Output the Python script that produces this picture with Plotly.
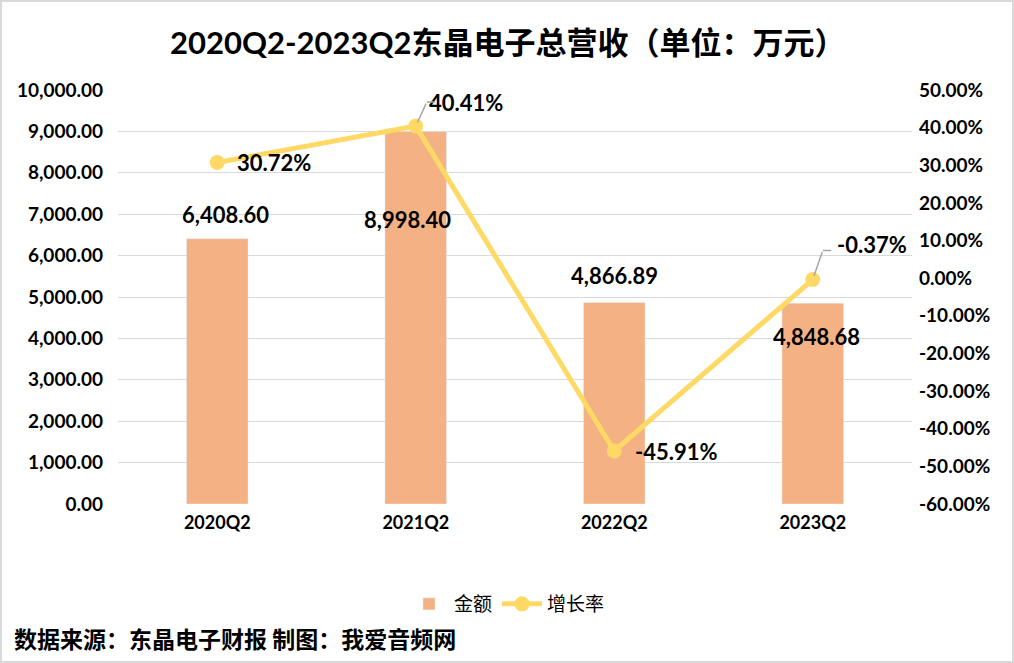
import plotly.graph_objects as go

categories = ["2020Q2", "2021Q2", "2022Q2", "2023Q2"]
amount = [6408.60, 8998.40, 4866.89, 4848.68]
growth = [30.72, 40.41, -45.91, -0.37]
left_ticks = [0, 1000, 2000, 3000, 4000, 5000, 6000, 7000, 8000, 9000, 10000]
right_ticks = [50, 40, 30, 20, 10, 0, -10, -20, -30, -40, -50, -60]

W, H = 1014, 663
L, R, T, B = 118, 102, 90, 159
PW, PH = W - L - R, H - T - B

BAR_C = "#F4B183"
LINE_C = "#FFD966"
LAT = "Lato, 'Noto Sans CJK SC', sans-serif"
CJK = "'Noto Sans CJK SC', sans-serif"

fig = go.Figure()
fig.add_trace(go.Bar(x=categories, y=amount, name="金额", marker_color=BAR_C,
                     width=0.31, yaxis="y"))
fig.add_trace(go.Scatter(x=categories, y=growth, name="增长率", mode="lines+markers",
                         line=dict(color=LINE_C, width=5),
                         marker=dict(color=LINE_C, size=15), yaxis="y2"))

ann = []
bar_shift = [24, -88, 27, -33]
bar_xshift = [8, -8, 0, 4]
for c, v, ys, xs in zip(categories, amount, bar_shift, bar_xshift):
    ann.append(dict(x=c, y=v, xref="x", yref="y", text=f"{v:,.2f}", showarrow=False,
                    yshift=ys, xshift=xs, font=dict(family=LAT, size=22, color="black", weight="bold")))

line_off = [(57, 0), (50, 24), (62, -1), (59, 35)]
for c, v, (xs, ys) in zip(categories, growth, line_off):
    ann.append(dict(x=c, y=v, xref="x", yref="y2", text=f"{v:.2f}%", showarrow=False,
                    xshift=xs, yshift=ys, font=dict(family=LAT, size=22, color="black", weight="bold")))

# leader lines for 2021Q2 and 2023Q2
for i, (dx, dy) in [(1, (11, -24)), (3, (10, -29))]:
    ann.append(dict(x=categories[i], y=growth[i], xref="x", yref="y2", text="",
                    showarrow=True, arrowhead=0, arrowwidth=1.5, arrowcolor="#A6A6A6",
                    ax=dx, ay=dy, axref="pixel", ayref="pixel", standoff=4))
    ann.append(dict(x=categories[i], y=growth[i], xref="x", yref="y2", text="",
                    showarrow=True, arrowhead=0, arrowwidth=1.5, arrowcolor="#A6A6A6",
                    xshift=dx, yshift=-dy, ax=10, ay=0, standoff=0, startstandoff=0))

ann.append(dict(xref="paper", yref="paper", x=(12 - L) / PW, y=1 - (638 - T) / PH,
                xanchor="left", yanchor="middle", showarrow=False,
                text="数据来源：东晶电子财报 制图：我爱音频网",
                font=dict(family=CJK, size=23, color="black", weight="bold")))

ann.append(dict(xref="paper", yref="paper", x=(W / 2 - L) / PW, y=1 + (T - 42) / PH,
                xanchor="center", yanchor="middle", showarrow=False,
                text="2020Q2-2023Q2东晶电子总营收（单位：万元）",
                font=dict(family=LAT, size=31, color="black", weight="bold")))

fig.update_layout(
    width=W, height=H,
    margin=dict(l=L, r=R, t=T, b=B),
    paper_bgcolor="white", plot_bgcolor="white",
    bargap=0.69,
    xaxis=dict(showline=False, ticks="", tickfont=dict(family=LAT, size=18, color="black", weight="bold"),
               showgrid=False, ticklabelstandoff=6),
    yaxis=dict(range=[0, 10000], tickvals=left_ticks,
               ticktext=[f"{v:,.2f}" for v in left_ticks],
               showgrid=True, gridcolor="#D9D9D9", gridwidth=1.3, zeroline=False,
               tickfont=dict(family=LAT, size=19, color="black", weight="bold"),
               ticks="", ticklabelstandoff=14),
    yaxis2=dict(range=[-60, 50], tickvals=right_ticks,
                ticktext=[f"{v:.2f}%" for v in right_ticks],
                overlaying="y", side="right", showgrid=False, zeroline=False,
                tickfont=dict(family=LAT, size=19, color="black", weight="bold"),
                ticks="", ticklabelstandoff=6),
    showlegend=True,
    legend=dict(orientation="h", xanchor="center", yanchor="middle",
                x=(W / 2 - L) / PW, y=-(604 - T - PH) / PH,
                font=dict(family=CJK, size=19, color="black"), itemwidth=40),
    annotations=ann,
    shapes=[dict(type="rect", xref="paper", yref="paper",
                 x0=(1 - L) / PW, x1=(W - 1 - L) / PW,
                 y0=1 - (H - 1 - T) / PH, y1=1 + (T - 1) / PH,
                 line=dict(color="#D9D9D9", width=2), fillcolor="rgba(0,0,0,0)")],
)

fig.write_html("out.html")
